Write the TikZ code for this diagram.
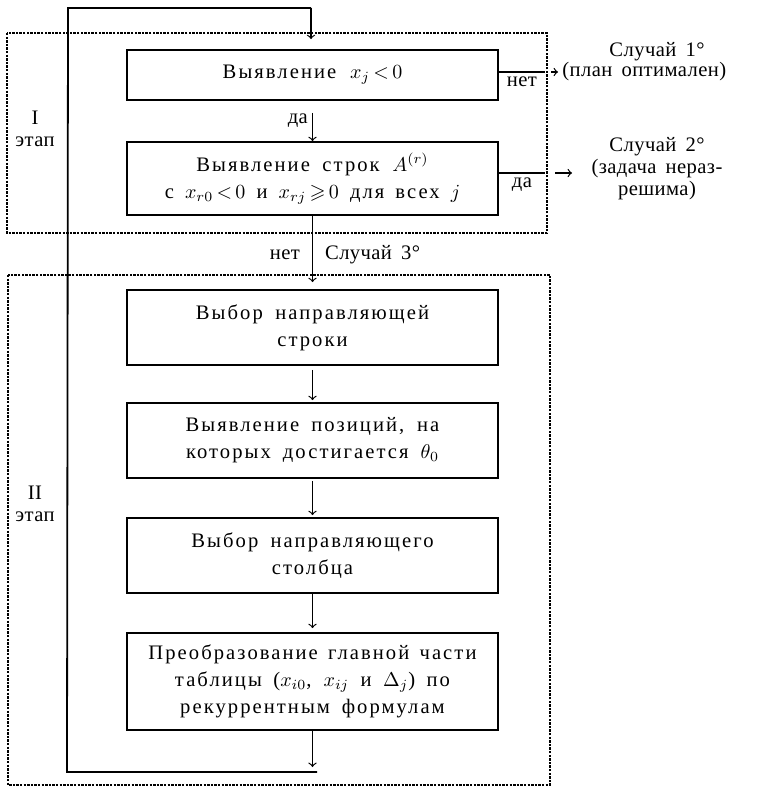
\documentclass[tikz,border=0pt]{standalone}
\usepackage{amsmath, amssymb}
\usepackage[no-math]{fontspec}
\setmainfont{Liberation Serif}[LetterSpace=10]
\usetikzlibrary{arrows}
\newcommand{\boxfont}{\fontsize{10.3}{13.5}\selectfont}
\newcommand{\notefont}{\fontsize{10.3}{11}\selectfont\addfontfeature{LetterSpace=2}}
\newcommand{\widespace}{\spaceskip=4.6pt plus 1pt minus 1pt\relax}
\tikzstyle{process} = [rectangle, minimum width=185.5pt, text width=185.5pt, inner sep=0pt, align=center, draw=black, line width=0.9pt, font=\boxfont, execute at begin node=\widespace]
\tikzstyle{arrow} = [line width=0.6pt,->,>=to]
\tikzstyle{stage} = [line width=0.7pt, dash pattern=on 1.2pt off 0.6pt]
\tikzstyle{txt} = [inner sep=2pt, align=center, font=\notefont, execute at begin node=\widespace]

\begin{document}
\begin{tikzpicture}[x=0.5pt, y=-0.5pt]
\useasboundingbox (0,0) rectangle (756,787);

% Stage I
\node[process, minimum height=25pt] (detect) at (312.5,75) {Выявление $x_j\,{<}\,0$};
\node[process, minimum height=36.5pt] (rows) at (312.5,178.5) {Выявление строк $A^{(r)}$\\с $x_{r0}\,{<}\,0$ и $x_{rj}\,{\geqslant}\,0$ для всех $j$};
\draw[arrow, shorten <=6pt] (detect) -- (rows) node[midway, left, txt] {да};

% dotted frame for stage I
\draw[stage] (7,33) rectangle (547,233);
\node[txt] (stageI) at (35,129) {I\\этап};

% case 1
\coordinate (no1) at (545,72);
\draw[line width=0.6pt] (detect.east |- no1) -- (no1) node[midway, below, txt] {нет};
\node[txt] (case1) at (657,52) {Случай 1°};
\node[txt, anchor=west] (plan) at (558,72) {(план оптимален)};
\draw[arrow, shorten <=3pt] (no1) -- (plan.west);

% case 2
\coordinate (yes2) at (545,173);
\coordinate (tip2) at (572,173);
\draw[line width=0.6pt] (rows.east |- yes2) -- (yes2) node[midway, below, txt] {да};
\node[txt] (case2) at (657,169) {Случай 2°\\(задача нераз-\\решима)};
\draw[arrow, shorten <=5pt] (yes2) -- (tip2);

% Stage II
\node[process, minimum height=37.5pt] (row) at (312.5,327.5) {Выбор направляющей\\строки};
\draw[arrow, shorten >=3.5pt] (rows) -- (row)
  node[pos=0.53, left, txt, xshift=-4pt] {нет} node[pos=0.53, right, txt, xshift=4pt] {Случай 3°};
\node[process, minimum height=37.5pt] (place) at (312.5,440.5) {Выявление позиций, на\\которых достигается $\theta_0$};
\node[process, minimum height=37.5pt] (column) at (312.5,555.5) {Выбор направляющего\\столбца};
\node[process, minimum height=48.5pt] (update) at (312.5,681.5) {Преобразование главной части\\таблицы ($x_{i0}$, $x_{ij}$ и $\Delta_j$) по\\рекуррентным формулам};
\draw[arrow, shorten <=2pt, shorten >=1pt] (row) -- (place);
\draw[arrow, shorten <=1pt, shorten >=1pt] (place) -- (column);
\draw[arrow, shorten >=2pt] (column) -- (update);

% dotted frame for stage II
\draw[stage] (8,275) rectangle (550,785);
\node[txt] (stageII) at (35,504) {II\\этап};

% loop back to the start
\coordinate (bl) at (67,772);
\coordinate (br) at (317,772);
\coordinate (tl) at (68,8);
\coordinate (tr) at (311,8);
\draw[arrow, shorten >=2.5pt] (update) -- (update.south |- bl);
\draw[line width=0.9pt] (br) -- (bl) -- (tl) -- (tr);
\draw[arrow, shorten >=5pt] (tr) -- (detect.north -| tr);

\end{tikzpicture}
\end{document}
